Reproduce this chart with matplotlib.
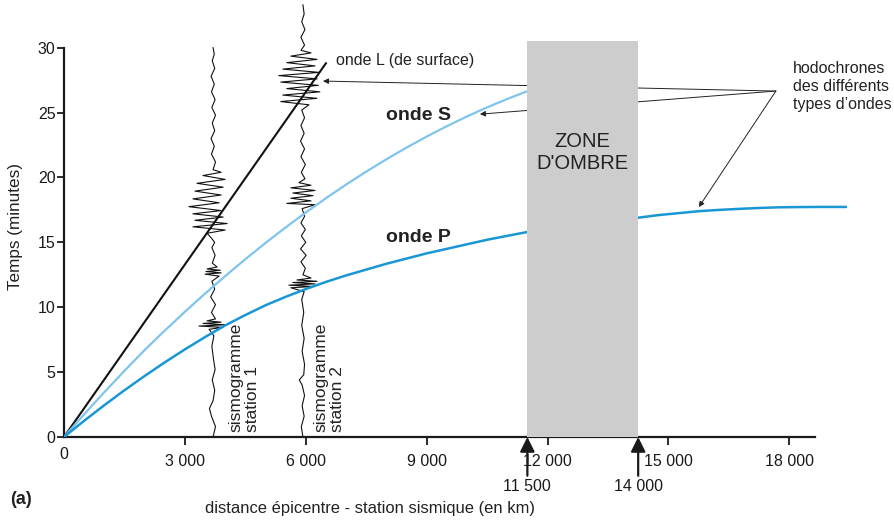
import matplotlib
matplotlib.use('Agg')
import matplotlib.pyplot as plt
from matplotlib.patches import Rectangle

plt.rcParams['font.family'] = ['Liberation Sans', 'DejaVu Sans']

# hodochrones (distance en km, temps en minutes)
dist_L = [0, 6500]
temps_L = [0, 28.8]

dist_S = [0, 500, 1000, 1500, 2000, 2500, 3000, 3500, 4000, 4500, 5000, 5500,
          6000, 6500, 7000, 7500, 8000, 8500, 9000, 9500, 10000, 10500, 11000, 11500]
temps_S = [0, 1.75, 3.45, 5.1, 6.7, 8.2, 9.65, 11.05, 12.4, 13.7, 14.95, 16.15,
           17.3, 18.4, 19.45, 20.45, 21.4, 22.3, 23.15, 23.95, 24.7, 25.4, 26.05, 26.65]

dist_P = [0, 500, 1000, 1500, 2000, 2500, 3000, 3500, 4000, 4500, 5000, 5500,
          6000, 6500, 7000, 7500, 8000, 8500, 9000, 9500, 10000, 10500, 11000, 11500]
temps_P = [0, 1.25, 2.45, 3.6, 4.7, 5.75, 6.75, 7.7, 8.6, 9.4, 10.15, 10.8,
           11.4, 11.95, 12.45, 12.9, 13.35, 13.75, 14.15, 14.5, 14.85, 15.2, 15.5, 15.8]

dist_P2 = [14250, 14750, 15250, 15750, 16250, 16750, 17250, 17750, 18250, 18750, 19400]
temps_P2 = [16.9, 17.1, 17.25, 17.4, 17.5, 17.58, 17.65, 17.7, 17.72, 17.73, 17.73]

zone_debut = 11500
zone_fin = 14250
zone_haut = 30.5

# sismogrammes : temps et ecart horizontal (km) autour de la station
station1 = 3700
sismo1_t = [0, 0.8, 1.6, 2.2, 2.8, 3.6, 4.4, 5.2, 6.0, 7.0, 7.8, 8.3, 8.45, 8.55,
            8.65, 8.75, 8.85, 8.95, 9.1, 9.6, 10.2, 10.8, 11.4, 12.0, 12.4, 12.55,
            12.65, 12.75, 12.85, 12.95, 13.1, 13.4, 14.0, 14.6, 15.0, 15.4, 15.7,
            15.95, 16.2, 16.45, 16.7, 16.95, 17.2, 17.45, 17.75, 18.05, 18.35, 18.65,
            18.95, 19.25, 19.55, 19.85, 20.15, 20.4, 20.6, 21.2, 21.8, 22.4, 23.0,
            23.6, 24.2, 24.8, 25.4, 26.0, 26.6, 27.2, 27.8, 28.4, 29.0, 29.5, 30.0]
sismo1_dx = [0, 60, -40, -90, 0, 40, -20, 50, 10, -30, 20, -100, 250, -350,
             300, -250, 200, -150, 60, -40, 60, -60, 40, -30, 150, -200,
             200, -180, 180, -150, 100, -20, 50, -30, 40, -60, -150,
             300, -500, 350, -450, 250, -500, 200, -600, 150, -500, 200,
             -450, 250, -400, 300, -250, 200, 0, 60, -40, 30, -50,
             40, -20, 60, -30, 50, -40, 30, -50, 40, -20, 30, 0]

station2 = 5930
sismo2_t = [0, 0.8, 1.6, 2.4, 3.2, 4.0, 4.4, 4.8, 5.6, 6.6, 7.6, 8.6, 9.6, 10.6,
            11.2, 11.5, 11.6, 11.7, 11.8, 11.9, 12.0, 12.1, 12.25, 12.5, 13.0, 13.5,
            14.0, 14.5, 15.0, 15.5, 16.0, 16.5, 17.0, 17.6, 17.9, 18.0, 18.2, 18.4,
            18.6, 18.8, 19.0, 19.2, 19.4, 19.6, 19.9, 20.4, 21.0, 21.6, 22.2, 22.8,
            23.4, 24.0, 24.6, 25.2, 25.6, 25.85, 26.1, 26.35, 26.6, 26.85, 27.1,
            27.35, 27.6, 27.85, 28.1, 28.35, 28.6, 28.85, 29.1, 29.35, 29.6, 29.8,
            30.2, 30.8, 31.4, 32.0, 32.6, 33.3]
sismo2_dx = [0, -40, 30, -20, 40, -20, -90, 20, 40, -20, 30, -30, 20, -30,
             30, -300, 250, -350, 300, -250, 350, -150, 200, 0, 60, -50,
             80, -60, 70, -40, 60, -50, 40, -20, 300, -400, 200, -300,
             250, -250, 300, -300, 200, -100, 50, -40, 60, -50, 40, -60,
             30, -50, 40, -30, 150, -550, 350, -500, 420, -400, 380,
             -550, 350, -600, 400, -500, 300, -400, 350, -300, 200, -50,
             40, -50, 50, -30, 30, 0]

xticks = [3000, 6000, 9000, 12000, 15000, 18000]
xtick_labels = ['3 000', '6 000', '9 000', '12 000', '15 000', '18 000']
yticks = [0, 5, 10, 15, 20, 25, 30]

bleu_S = '#7fc4ec'
bleu_P = '#1997d5'
gris = '#cdcdcd'

fig = plt.figure(figsize=(8.94, 5.22), dpi=100)
ax = fig.add_axes([64 / 894, 85 / 522, 826 / 894, 436 / 522])
ax.set_xlim(0, 20500)
ax.set_ylim(0, 33.6)

for s in ['top', 'right']:
    ax.spines[s].set_visible(False)
ax.spines['left'].set_bounds(0, 30)
ax.spines['bottom'].set_bounds(0, 18630)
ax.spines['left'].set_linewidth(1.6)
ax.spines['bottom'].set_linewidth(1.6)
ax.spines['left'].set_color('#1a1a1a')
ax.spines['bottom'].set_color('#1a1a1a')

ax.set_xticks(xticks)
ax.set_xticklabels(xtick_labels)
ax.set_yticks(yticks)
ax.tick_params(axis='x', direction='out', length=6, width=1.3, pad=6, labelsize=11.5, colors='#1a1a1a')
ax.tick_params(axis='y', direction='out', length=5, width=1.3, pad=1, labelsize=11.5, colors='#1a1a1a')
ax.text(0, -0.75, '0', ha='center', va='top', fontsize=11.5, color='#1a1a1a')

# sismogrammes
ax.plot([station1 + d for d in sismo1_dx], sismo1_t, color='#111111', lw=0.8, zorder=2)
ax.plot([station2 + d for d in sismo2_dx], sismo2_t, color='#111111', lw=0.8, zorder=2,
        clip_on=False)

# hodochrones
ax.plot(dist_L, temps_L, color='#111111', lw=1.5, zorder=3)
ax.plot(dist_S, temps_S, color=bleu_S, lw=1.6, zorder=3)
ax.plot(dist_P, temps_P, color=bleu_P, lw=1.8, zorder=3)
ax.plot(dist_P2, temps_P2, color=bleu_P, lw=1.8, zorder=3)

# fleches des hodochrones (derriere la zone d'ombre)
conv = (17667, 26.66)
for cible in [(6427, 27.43), (10323, 24.88), (15757, 17.72)]:
    ax.annotate('', xy=cible, xytext=conv,
                arrowprops=dict(arrowstyle='-|>', color='#222222', lw=0.7, mutation_scale=8,
                                shrinkA=0, shrinkB=0), zorder=1)

# zone d'ombre
ax.add_patch(Rectangle((zone_debut, 0), zone_fin - zone_debut, zone_haut,
                       facecolor=gris, edgecolor='none', zorder=4))
ax.text((zone_debut + zone_fin) / 2, 21.9, "ZONE\nD'OMBRE", ha='center', va='center',
        fontsize=14.5, color='#222222', zorder=5)

for pos, lab in [(zone_debut, '11 500'), (zone_fin, '14 000')]:
    ax.annotate(lab, xy=(pos, 0), xytext=(pos, -3.2), ha='center', va='top',
                fontsize=11.5, color='#1a1a1a', annotation_clip=False,
                arrowprops=dict(arrowstyle='-|>', color='#1a1a1a', lw=1.6,
                                mutation_scale=22, shrinkA=0, shrinkB=0))

# textes
ax.text(6750, 29.05, 'onde L (de surface)', ha='left', va='center', fontsize=11.5,
        color='#222222')
ax.text(7990, 24.8, 'onde S', ha='left', va='center', fontsize=14, fontweight='bold',
        color='#222222')
ax.text(7990, 15.4, 'onde P', ha='left', va='center', fontsize=14, fontweight='bold',
        color='#222222')
ax.text(18100, 27.0, 'hodochrones\ndes différents\ntypes d’ondes', ha='left', va='center',
        fontsize=11.5, color='#222222', linespacing=1.25)
ax.text(4070, 0.4, 'sismogramme\nstation 1', rotation=90, ha='left', va='bottom',
        fontsize=12.5, color='#222222', multialignment='left')
ax.text(6180, 0.4, 'sismogramme\nstation 2', rotation=90, ha='left', va='bottom',
        fontsize=12.5, color='#222222', multialignment='left')

fig.text(16 / 894, 1 - 226 / 522, 'Temps (minutes)', rotation=90, ha='center', va='center',
         fontsize=12.3, color='#222222')
fig.text(370 / 894, 1 - 508 / 522, 'distance épicentre - station sismique (en km)',
         ha='center', va='center', fontsize=11.9, color='#222222')
fig.text(10 / 894, 1 - 500 / 522, '(a)', ha='left', va='center', fontsize=13,
         fontweight='bold', color='#222222')

fig.savefig('out.png', dpi=100)
